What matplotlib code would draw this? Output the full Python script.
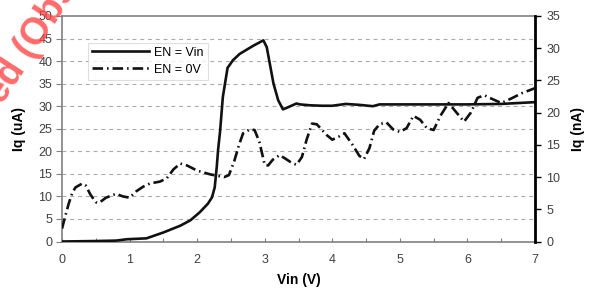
import numpy as np
import matplotlib
matplotlib.use('Agg')
import matplotlib.pyplot as plt

plt.rcParams['font.family'] = ['Liberation Sans', 'DejaVu Sans']

# EN = Vin, left axis (uA)
vin_on = [0, 0.5, 0.8, 0.96, 1.25, 1.5, 1.75, 1.9, 2.04, 2.16, 2.22, 2.26, 2.29,
          2.31, 2.34, 2.38, 2.45, 2.53, 2.63, 2.83, 2.98, 3.03, 3.13, 3.2, 3.27,
          3.35, 3.47, 3.52, 3.67, 3.85, 4.0, 4.2, 4.4, 4.6, 4.7, 5.0, 5.5, 6.0,
          6.5, 7.0]
iq_on = [0, 0.1, 0.2, 0.5, 0.7, 2.0, 3.5, 4.7, 6.5, 8.4, 9.8, 12.0, 16.5,
         20.3, 24.5, 32.0, 38.5, 40.2, 41.6, 43.4, 44.6, 43.1, 35.0, 31.3, 29.3,
         29.8, 30.6, 30.4, 30.2, 30.1, 30.1, 30.5, 30.3, 30.0, 30.4, 30.4, 30.4,
         30.4, 30.5, 30.9]

# EN = 0V, right axis (nA)
vin_off = [0, 0.05, 0.1, 0.15, 0.2, 0.3, 0.35, 0.42, 0.5, 0.55, 0.65, 0.8, 0.9,
           1.0, 1.1, 1.2, 1.3, 1.45, 1.55, 1.65, 1.75, 1.85, 2.0, 2.2, 2.4, 2.47,
           2.55, 2.62, 2.68, 2.78, 2.85, 2.92, 3.0, 3.05, 3.12, 3.22, 3.3, 3.4,
           3.47, 3.55, 3.62, 3.7, 3.77, 3.92, 4.0, 4.1, 4.18, 4.3, 4.4, 4.47,
           4.55, 4.62, 4.7, 4.8, 4.9, 5.0, 5.1, 5.2, 5.3, 5.4, 5.5, 5.6, 5.72,
           5.8, 5.95, 6.05, 6.15, 6.25, 6.35, 6.5, 6.65, 6.8, 7.0]
iq_off = [2.0, 4.0, 5.9, 7.5, 8.4, 9.0, 8.7, 7.3, 6.1, 6.0, 6.8, 7.4, 7.0,
          6.8, 7.8, 8.5, 9.0, 9.3, 9.8, 11.2, 12.1, 11.8, 11.0, 10.4, 10.0, 10.3,
          12.5, 15.0, 16.8, 17.4, 17.3, 15.5, 11.9, 11.8, 12.7, 13.4, 12.9, 12.2,
          11.9, 13.1, 15.8, 18.3, 18.2, 16.5, 15.8, 16.3, 16.8, 15.0, 13.3, 12.8,
          14.5, 17.2, 18.2, 18.5, 17.4, 17.0, 17.6, 19.5, 18.9, 17.6, 17.3, 19.5,
          21.5, 20.5, 18.6, 20.0, 22.3, 22.7, 22.2, 21.5, 22.2, 23.0, 23.8]

x_ticks = [0, 1, 2, 3, 4, 5, 6, 7]
left_ticks = [0, 5, 10, 15, 20, 25, 30, 35, 40, 45, 50]
right_ticks = [0, 5, 10, 15, 20, 25, 30, 35]

fig = plt.figure(figsize=(5.93, 2.91), dpi=100)
ax = fig.add_axes([62 / 593, 1 - 241.5 / 291, 473 / 593, 225.5 / 291])
ax2 = ax.twinx()

gray = '#808080'
tcol = '#404040'

ax.set_xlim(0, 7)
ax.set_ylim(0, 50)
ax2.set_ylim(0, 35)

for y in left_ticks[1:-1]:
    ax.axhline(y, color='#aaaaaa', lw=0.8, ls=(0, (3.5, 3.5)), zorder=0)

l1, = ax.plot(vin_on, iq_on, color='#111111', lw=1.9, solid_joinstyle='round',
              label='EN = Vin', zorder=3)
l2, = ax2.plot(vin_off, iq_off, color='#111111', lw=1.9,
               ls=(0, (4, 1.5, 0.6, 1.5)), label='EN = 0V', zorder=3)

ax.set_xticks(x_ticks)
ax.set_xticks(np.arange(0, 7.01, 0.5), minor=True)
ax.set_yticks(left_ticks)
ax2.set_yticks(right_ticks)

ax.tick_params(axis='x', direction='in', length=3, width=0.8, color=gray,
               labelsize=9, labelcolor=tcol, pad=9)
ax.tick_params(axis='x', which='minor', direction='in', length=3, width=0.8,
               color=gray)
ax.tick_params(axis='y', direction='out', length=4, width=0.8, color=gray,
               labelsize=9, labelcolor=tcol, pad=3)
ax2.tick_params(axis='y', direction='out', length=4, width=1.0, color='black',
                labelsize=9, labelcolor=tcol, pad=4)

for s in ['left', 'bottom', 'top']:
    ax.spines[s].set_color(gray)
    ax.spines[s].set_linewidth(1.2)
    ax2.spines[s].set_visible(False)
ax.spines['right'].set_visible(False)
ax2.spines['right'].set_color('black')
ax2.spines['right'].set_linewidth(2)

ax.set_xlabel('Vin (V)', fontsize=10, fontweight='bold', labelpad=5)
ax.set_ylabel('Iq (uA)', fontsize=10, fontweight='bold', labelpad=9)
ax2.set_ylabel('Iq (nA)', fontsize=10, fontweight='bold', labelpad=8)

leg = ax.legend(handles=[l1, l2], loc='upper left',
                bbox_to_anchor=(0.055, 0.88), fontsize=9, frameon=True,
                fancybox=False, handlelength=4.6, handletextpad=0.4,
                borderpad=0.3, labelspacing=0.4, borderaxespad=0)
leg.get_frame().set_edgecolor('#d8d8d8')
leg.get_frame().set_linewidth(0.8)
leg.set_zorder(5)

# watermark
fig.text(2 / 593, 1 - 106 / 291, 'ed (Obsolete)', rotation=57,
         rotation_mode='anchor', ha='left', va='baseline', fontsize=27,
         fontweight='bold', color='#ff4545', alpha=0.8)

fig.savefig('out.png', dpi=100)
